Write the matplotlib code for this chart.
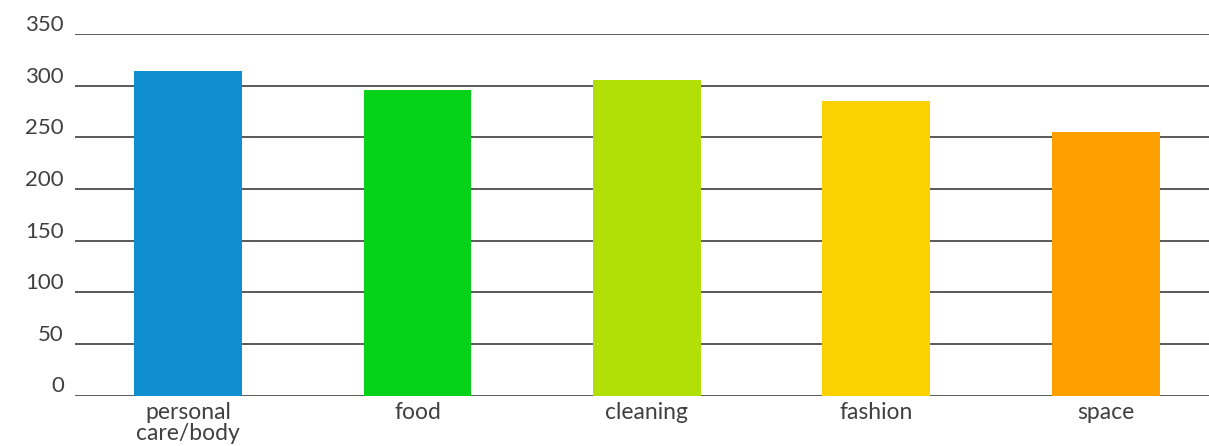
import matplotlib
matplotlib.use("Agg")
import matplotlib.pyplot as plt
from matplotlib.transforms import ScaledTranslation

categories = ["personal\ncare/body", "food", "cleaning", "fashion", "space"]
values = [314, 296, 305, 285, 255]
colors = ["#0F8FCF", "#06D21A", "#B1E006", "#FBD100", "#FF9F00"]
yticks = [0, 50, 100, 150, 200, 250, 300, 350]

plt.rcParams['font.family'] = ['Lato', 'DejaVu Sans']

fig = plt.figure(figsize=(12.09, 4.46), dpi=100)
ax = fig.add_axes([75/1209, 50.5/446, 1 - 75/1209, (395.5-34)/446])

x = list(range(len(categories)))
ax.bar(x, values, width=0.47, color=colors, zorder=3)

ax.set_ylim(0, 350)
ax.set_xlim(-0.493, 4.45)
ax.set_yticks(yticks)
ax.set_yticklabels([str(t) for t in yticks], fontsize=16, color="#404040")
ax.set_xticks(x)
ax.set_xticklabels(categories, fontsize=16.5, color="#404040", linespacing=1.0)
ax.tick_params(axis='y', length=0, pad=8)
ax.tick_params(axis='x', length=0, pad=5)
ax.grid(axis='y', color="#595959", linewidth=1.4, zorder=0)
for s in ax.spines.values():
    s.set_visible(False)

off = ScaledTranslation(0, 11/100, fig.dpi_scale_trans)
for lab in ax.get_yticklabels():
    lab.set_transform(lab.get_transform() + off)

fig.savefig("out.png", dpi=100)
